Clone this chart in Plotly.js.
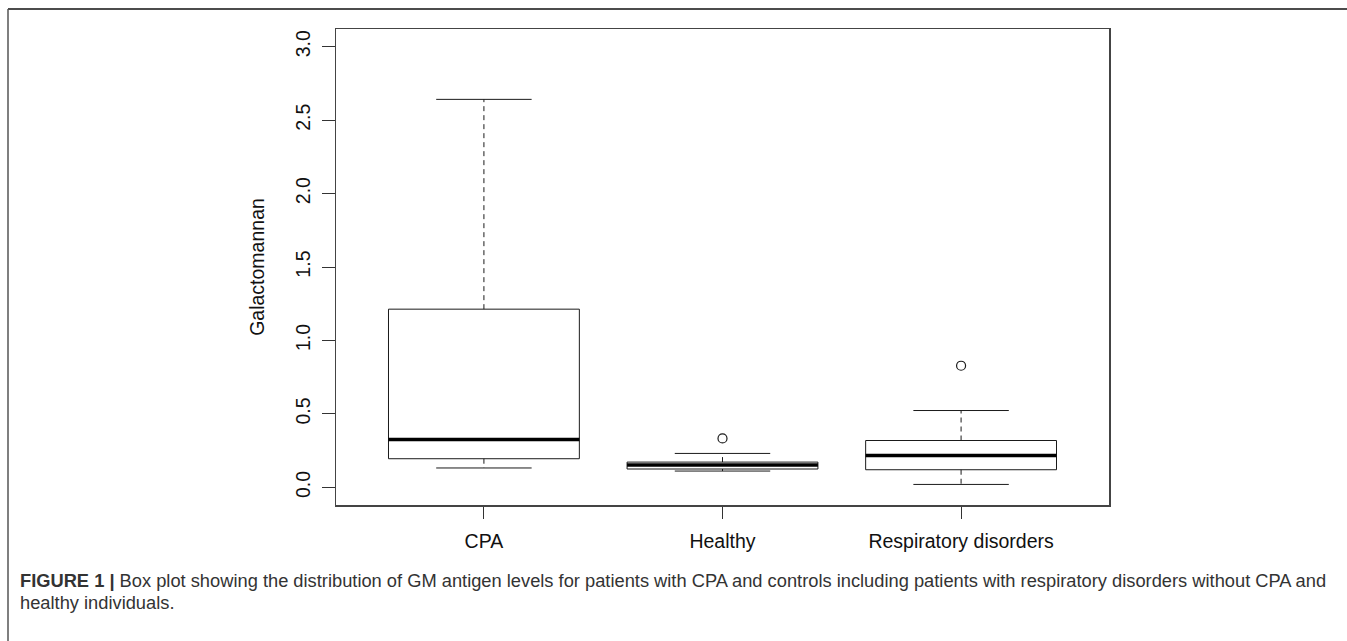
<!DOCTYPE html>
<html>
<head>
<meta charset="utf-8">
<script src="https://cdn.plot.ly/plotly-3.0.1.min.js"></script>
<style>
  html, body { margin: 0; padding: 0; background: #fff; }
  #chart { width: 1347px; height: 641px; }
</style>
</head>
<body>
<div id="chart"></div>
<script>
// ---- Data ----
var categories = ['CPA', 'Healthy', 'Respiratory disorders'];
var lowerWhisker = [0.132, 0.111, 0.020];
var q1Values = [0.195, 0.125, 0.120];
var medianValues = [0.326, 0.152, 0.217];
var q3Values = [1.213, 0.172, 0.319];
var upperWhisker = [2.641, 0.231, 0.523];
var outlierGroup = [2, 3];
var outlierValues = [0.333, 0.828];
var yTickValues = [0, 0.5, 1, 1.5, 2, 2.5, 3];

// ---- Build box-plot marks (R style) ----
var boxHalf = 0.4, capHalf = 0.2;
var bx = [], by = [], mx = [], my = [], wx = [], wy = [], cx = [], cy = [];
categories.forEach(function (name, i) {
  var c = i + 1;
  bx.push(c - boxHalf, c + boxHalf, c + boxHalf, c - boxHalf, c - boxHalf, null);
  by.push(q1Values[i], q1Values[i], q3Values[i], q3Values[i], q1Values[i], null);
  mx.push(c - boxHalf, c + boxHalf, null);
  my.push(medianValues[i], medianValues[i], null);
  wx.push(c, c, null, c, c, null);
  wy.push(q3Values[i], upperWhisker[i], null, q1Values[i], lowerWhisker[i], null);
  cx.push(c - capHalf, c + capHalf, null, c - capHalf, c + capHalf, null);
  cy.push(upperWhisker[i], upperWhisker[i], null, lowerWhisker[i], lowerWhisker[i], null);
});

var lineCol = '#1a1a1a';
var traces = [
  { type: 'scatter', mode: 'lines', x: wx, y: wy, line: { color: lineCol, width: 1, dash: '5px,4px' }, hoverinfo: 'skip' },
  { type: 'scatter', mode: 'lines', x: cx, y: cy, line: { color: lineCol, width: 1 }, hoverinfo: 'skip' },
  { type: 'scatter', mode: 'lines', x: bx, y: by, line: { color: lineCol, width: 1 }, hoverinfo: 'skip' },
  { type: 'scatter', mode: 'lines', x: mx, y: my, line: { color: '#000', width: 3.5 }, hoverinfo: 'skip' },
  { type: 'scatter', mode: 'markers', x: outlierGroup, y: outlierValues,
    marker: { symbol: 'circle-open', size: 9, color: lineCol, line: { width: 1.2, color: lineCol } }, hoverinfo: 'skip' }
];

var font = { family: 'Liberation Sans, Arial, sans-serif', size: 19.5, color: '#111' };
var capFont = { family: 'Liberation Sans, Arial, sans-serif', size: 18.3, color: '#333' };

var L = 336, R = 1109, T = 29, B = 505, W = 1347, H = 641;
function px(x) { return (x - L) / (R - L); }
function py(y) { return (B - y) / (B - T); }

var layout = {
  width: W, height: H,
  margin: { l: L, r: W - R, t: T, b: H - B, pad: 0 },
  paper_bgcolor: '#fff', plot_bgcolor: '#fff',
  showlegend: false,
  font: font,
  xaxis: {
    range: [0.38, 3.62], tickvals: [1, 2, 3], ticktext: categories,
    ticks: 'outside', ticklen: 12, tickcolor: '#333', tickwidth: 1,
    showline: true, linecolor: '#444', linewidth: 1.5, mirror: true,
    showgrid: false, zeroline: false, tickfont: font, ticklabelstandoff: 6
  },
  yaxis: {
    range: [-0.12, 3.12], tickvals: yTickValues, tickformat: '.1f',
    ticks: 'outside', ticklen: 13, tickcolor: '#333', tickwidth: 1,
    tickangle: -90, showline: true, linecolor: '#444', linewidth: 1.5, mirror: true,
    showgrid: false, zeroline: false, tickfont: font, ticklabelstandoff: 4,
    title: { text: 'Galactomannan', font: font, standoff: 22 }
  },
  shapes: [
    { type: 'line', xref: 'paper', yref: 'paper', x0: px(8), x1: px(W), y0: py(9), y1: py(9), line: { color: '#111', width: 1.5 } },
    { type: 'line', xref: 'paper', yref: 'paper', x0: px(8), x1: px(8), y0: py(9), y1: py(H), line: { color: '#555', width: 1.5 } }
  ],
  annotations: [
    { xref: 'paper', yref: 'paper', x: px(18), y: py(580), xanchor: 'left', yanchor: 'middle', showarrow: false, align: 'left',
      text: '<b>FIGURE 1 |</b> Box plot showing the distribution of GM antigen levels for patients with CPA and controls including patients with respiratory disorders without CPA and',
      font: capFont },
    { xref: 'paper', yref: 'paper', x: px(18), y: py(602), xanchor: 'left', yanchor: 'middle', showarrow: false, align: 'left',
      text: 'healthy individuals.',
      font: capFont }
  ]
};

Plotly.newPlot('chart', traces, layout, { displayModeBar: false, staticPlot: true });
</script>
</body>
</html>
